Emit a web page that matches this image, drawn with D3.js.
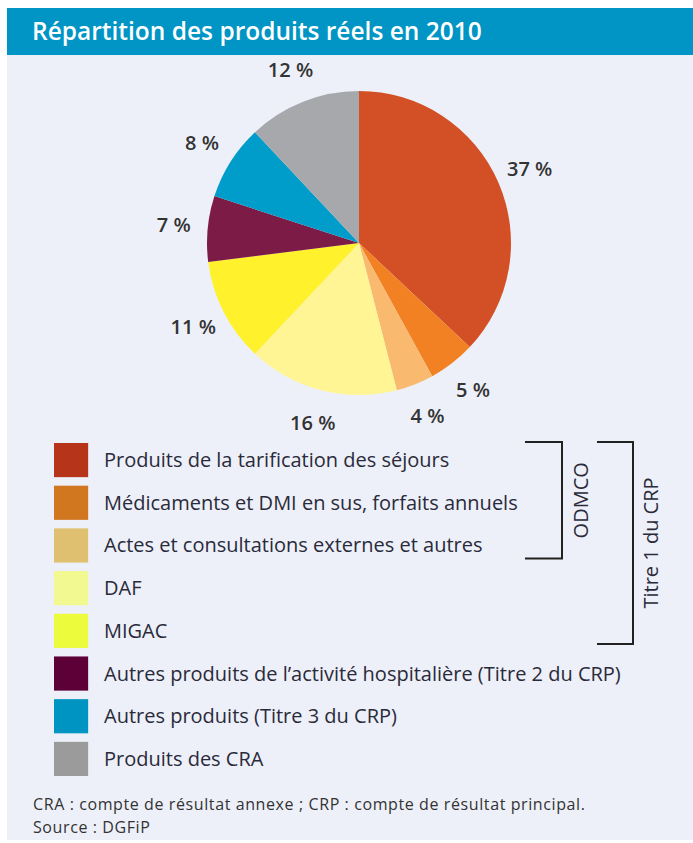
<!DOCTYPE html>
<html>
<head>
<meta charset="utf-8">
<script src="https://cdn.jsdelivr.net/npm/d3@7"></script>
<style>
  body { margin: 0; background: #fff; }
  svg { display: block; }
  text { font-family: "Open Sans", "Noto Sans", sans-serif; }
</style>
</head>
<body>
<div id="chart"></div>
<script>
// données
const titre = "Répartition des produits réels en 2010";
const parts = [37, 5, 4, 16, 11, 7, 8, 12];
const couleursPie = ["#d35027", "#f28123", "#f9b96f", "#fff594", "#fff22c", "#7d1b47", "#009cca", "#a7a8ab"];
const libelles = [
    "Produits de la tarification des séjours",
    "Médicaments et DMI en sus, forfaits annuels",
    "Actes et consultations externes et autres",
    "DAF",
    "MIGAC",
    "Autres produits de l\u2019activité hospitalière (Titre 2 du CRP)",
    "Autres produits (Titre 3 du CRP)",
    "Produits des CRA"
];
const couleursLegende = ["#b5341a", "#d0771f", "#dfc070", "#f2f990", "#ecfb3c", "#5e0038", "#0094c2", "#9b9b9b"];
const groupes = [
    { nom: "ODMCO", de: 0, a: 2 },
    { nom: "Titre 1 du CRP", de: 0, a: 4 }
];
const notes = [
    "CRA : compte de résultat annexe ; CRP : compte de résultat principal.",
    "Source : DGFiP"
];

const width = 693, height = 843;

const svg = d3.select("#chart")
    .append("svg")
    .attr("width", width)
    .attr("height", height);

// fond et bandeau titre
svg.append("rect")
    .attr("x", 7).attr("y", 8)
    .attr("width", width - 7).attr("height", 832)
    .attr("fill", "#edf0f8");

svg.append("rect")
    .attr("x", 7).attr("y", 8)
    .attr("width", width - 7).attr("height", 47)
    .attr("fill", "#0095c4");

svg.append("text")
    .attr("x", 32).attr("y", 40)
    .attr("fill", "#fff")
    .attr("font-size", 24.5)
    .attr("font-weight", 600)
    .text(titre);

// camembert
const cx = 359, cy = 243, r = 152;
const pie = d3.pie().sort(null).value(d => d);
const arc = d3.arc().innerRadius(0).outerRadius(r);
const arcLabel = d3.arc().innerRadius(186).outerRadius(186);

const g = svg.append("g")
    .attr("transform", `translate(${cx},${cy})`);

const arcs = pie(parts);

g.selectAll("path")
    .data(arcs)
    .enter()
    .append("path")
    .attr("d", arc)
    .attr("fill", (d, i) => couleursPie[i]);

g.selectAll("text")
    .data(arcs)
    .enter()
    .append("text")
    .attr("transform", d => `translate(${arcLabel.centroid(d)})`)
    .attr("text-anchor", "middle")
    .attr("dy", "0.35em")
    .attr("font-size", 20)
    .attr("font-weight", 600)
    .attr("fill", "#333")
    .text(d => d.data + "\u00a0%");

// légende
const y = d3.scaleBand()
    .domain(d3.range(libelles.length))
    .range([443, 776])
    .paddingInner(0.2);

const leg = svg.append("g");

leg.selectAll("rect")
    .data(libelles)
    .enter()
    .append("rect")
    .attr("x", 54)
    .attr("y", (d, i) => y(i))
    .attr("width", y.bandwidth())
    .attr("height", y.bandwidth())
    .attr("fill", (d, i) => couleursLegende[i]);

leg.selectAll("text")
    .data(libelles)
    .enter()
    .append("text")
    .attr("x", 104)
    .attr("y", (d, i) => y(i) + y.bandwidth() / 2)
    .attr("dy", "0.35em")
    .attr("font-size", 20)
    .attr("fill", "#2a2a3a")
    .text(d => d);

// accolades ODMCO / Titre 1 du CRP
const posGroupes = [{ x1: 525, x2: 562, xt: 581 }, { x1: 597, x2: 633, xt: 651 }];

groupes.forEach((grp, k) => {
    const p = posGroupes[k];
    const top = y(grp.de) - 1;
    const bottom = y(grp.a) + y.bandwidth() - 4;
    svg.append("path")
        .attr("d", `M${p.x1},${top}H${p.x2}V${bottom}H${p.x1}`)
        .attr("fill", "none")
        .attr("stroke", "#222")
        .attr("stroke-width", 2);
    svg.append("text")
        .attr("transform", `translate(${p.xt},${(top + bottom) / 2}) rotate(-90)`)
        .attr("text-anchor", "middle")
        .attr("dy", "0.35em")
        .attr("font-size", 20)
        .attr("fill", "#2a2a3a")
        .text(grp.nom);
});

// notes
svg.selectAll(".note")
    .data(notes)
    .enter()
    .append("text")
    .attr("class", "note")
    .attr("x", 33)
    .attr("y", (d, i) => 810 + i * 23)
    .attr("font-size", 16)
    .attr("letter-spacing", 0.6)
    .attr("fill", "#333")
    .text(d => d);
</script>
</body>
</html>
